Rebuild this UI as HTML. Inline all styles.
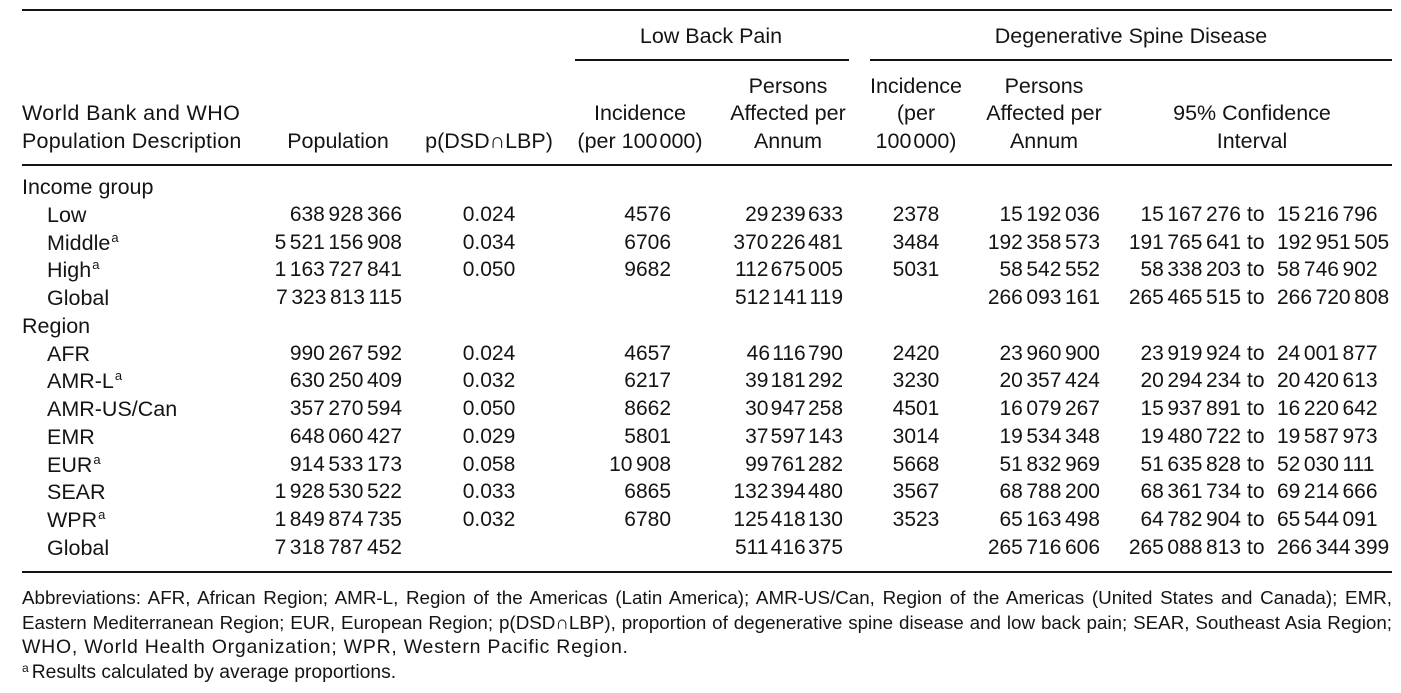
<!DOCTYPE html>
<html>
<head>
<meta charset="utf-8">
<style>
  html, body { margin:0; padding:0; background:#fff; }
  #c { position:relative; width:1401px; height:693px; overflow:hidden; background:#fff;
       font-family:"Liberation Sans", Arial, sans-serif; color:#141414; }
  .rule { position:absolute; background:#141414; height:2px; }
  .t { position:absolute; height:28px; line-height:28px; font-size:21.5px; white-space:nowrap; }
  .n { position:absolute; height:28px; line-height:28px; font-size:21px; white-space:nowrap; word-spacing:-2.3px; text-align:right; }
  .nt { word-spacing:-3.6px; }
  .cen { text-align:center; }
  .row { position:absolute; left:0; width:1401px; height:28px; }
  .sup { position:relative; top:-8px; font-size:13px; margin-left:1px; }
  .fn { position:absolute; left:22px; width:1370px; height:25px; line-height:25px; font-size:18.8px; white-space:nowrap; }
  .just { text-align:justify; text-align-last:justify; }
</style>
</head>
<body>
<div id="c">
  <!-- rules -->
  <div class="rule" style="left:22px; width:1370px; top:9px;"></div>
  <div class="rule" style="left:575px; width:274px; top:59px;"></div>
  <div class="rule" style="left:870px; width:522px; top:59px;"></div>
  <div class="rule" style="left:22px; width:1370px; top:164px;"></div>
  <div class="rule" style="left:22px; width:1370px; top:571px;"></div>

  <!-- header -->
  <div class="t cen" style="left:611px; width:200px; top:22px;">Low Back Pain</div>
  <div class="t cen" style="left:981px; width:300px; top:22px;">Degenerative Spine Disease</div>

  <div class="t" style="left:22px; top:99px; letter-spacing:0.4px;">World Bank and WHO</div>
  <div class="t" style="left:22px; top:127px; letter-spacing:0.2px;">Population Description</div>
  <div class="t cen" style="left:268px; width:140px; top:127px;">Population</div>
  <div class="t cen" style="left:409px; width:160px; top:127px;">p(DSD∩LBP)</div>
  <div class="t cen" style="left:560px; width:160px; top:99px;">Incidence</div>
  <div class="t cen" style="left:560px; width:160px; top:127px;">(per 100<span style="margin-left:2px"></span>000)</div>
  <div class="t cen" style="left:713px; width:150px; top:72px;">Persons</div>
  <div class="t cen" style="left:713px; width:150px; top:99px;">Affected per</div>
  <div class="t cen" style="left:713px; width:150px; top:127px;">Annum</div>
  <div class="t cen" style="left:856px; width:120px; top:72px;">Incidence</div>
  <div class="t cen" style="left:856px; width:120px; top:99px;">(per</div>
  <div class="t cen" style="left:856px; width:120px; top:127px;">100<span style="margin-left:2px"></span>000)</div>
  <div class="t cen" style="left:969px; width:150px; top:72px;">Persons</div>
  <div class="t cen" style="left:969px; width:150px; top:99px;">Affected per</div>
  <div class="t cen" style="left:969px; width:150px; top:127px;">Annum</div>
  <div class="t cen" style="left:1142px; width:220px; top:99px;">95% Confidence</div>
  <div class="t cen" style="left:1142px; width:220px; top:127px;">Interval</div>

  <!-- body -->
  <div class="row" style="top:173px;">
    <div class="t" style="left:22px;">Income group</div>
  </div>

  <div class="row" style="top:201px;">
    <div class="t" style="left:47px;">Low</div>
    <div class="n" style="right:999px;">638 928 366</div>
    <div class="n cen" style="left:439px; width:100px;">0.024</div>
    <div class="n" style="right:730px;">4576</div>
    <div class="n nt" style="right:558px;">29 239 633</div>
    <div class="n cen" style="left:866px; width:100px;">2378</div>
    <div class="n" style="right:301px;">15 192 036</div>
    <div class="n" style="right:160px;">15 167 276</div>
    <div class="n" style="left:1247px; text-align:left;">to</div>
    <div class="n" style="left:1277px; text-align:left;">15 216 796</div>
  </div>

  <div class="row" style="top:229px;">
    <div class="t" style="left:47px;">Middle<span class="sup">a</span></div>
    <div class="n" style="right:999px;">5 521 156 908</div>
    <div class="n cen" style="left:439px; width:100px;">0.034</div>
    <div class="n" style="right:730px;">6706</div>
    <div class="n nt" style="right:558px;">370 226 481</div>
    <div class="n cen" style="left:866px; width:100px;">3484</div>
    <div class="n" style="right:301px;">192 358 573</div>
    <div class="n" style="right:160px;">191 765 641</div>
    <div class="n" style="left:1247px; text-align:left;">to</div>
    <div class="n" style="left:1277px; text-align:left;">192 951 505</div>
  </div>

  <div class="row" style="top:256px;">
    <div class="t" style="left:47px;">High<span class="sup">a</span></div>
    <div class="n" style="right:999px;">1 163 727 841</div>
    <div class="n cen" style="left:439px; width:100px;">0.050</div>
    <div class="n" style="right:730px;">9682</div>
    <div class="n nt" style="right:558px;">112 675 005</div>
    <div class="n cen" style="left:866px; width:100px;">5031</div>
    <div class="n" style="right:301px;">58 542 552</div>
    <div class="n" style="right:160px;">58 338 203</div>
    <div class="n" style="left:1247px; text-align:left;">to</div>
    <div class="n" style="left:1277px; text-align:left;">58 746 902</div>
  </div>

  <div class="row" style="top:284px;">
    <div class="t" style="left:47px;">Global</div>
    <div class="n" style="right:999px;">7 323 813 115</div>
    <div class="n nt" style="right:558px;">512 141 119</div>
    <div class="n" style="right:301px;">266 093 161</div>
    <div class="n" style="right:160px;">265 465 515</div>
    <div class="n" style="left:1247px; text-align:left;">to</div>
    <div class="n" style="left:1277px; text-align:left;">266 720 808</div>
  </div>

  <div class="row" style="top:312px;">
    <div class="t" style="left:22px;">Region</div>
  </div>

  <div class="row" style="top:340px;">
    <div class="t" style="left:47px;">AFR</div>
    <div class="n" style="right:999px;">990 267 592</div>
    <div class="n cen" style="left:439px; width:100px;">0.024</div>
    <div class="n" style="right:730px;">4657</div>
    <div class="n nt" style="right:558px;">46 116 790</div>
    <div class="n cen" style="left:866px; width:100px;">2420</div>
    <div class="n" style="right:301px;">23 960 900</div>
    <div class="n" style="right:160px;">23 919 924</div>
    <div class="n" style="left:1247px; text-align:left;">to</div>
    <div class="n" style="left:1277px; text-align:left;">24 001 877</div>
  </div>

  <div class="row" style="top:367px;">
    <div class="t" style="left:47px;">AMR-L<span class="sup">a</span></div>
    <div class="n" style="right:999px;">630 250 409</div>
    <div class="n cen" style="left:439px; width:100px;">0.032</div>
    <div class="n" style="right:730px;">6217</div>
    <div class="n nt" style="right:558px;">39 181 292</div>
    <div class="n cen" style="left:866px; width:100px;">3230</div>
    <div class="n" style="right:301px;">20 357 424</div>
    <div class="n" style="right:160px;">20 294 234</div>
    <div class="n" style="left:1247px; text-align:left;">to</div>
    <div class="n" style="left:1277px; text-align:left;">20 420 613</div>
  </div>

  <div class="row" style="top:395px;">
    <div class="t" style="left:47px;">AMR-US/Can</div>
    <div class="n" style="right:999px;">357 270 594</div>
    <div class="n cen" style="left:439px; width:100px;">0.050</div>
    <div class="n" style="right:730px;">8662</div>
    <div class="n nt" style="right:558px;">30 947 258</div>
    <div class="n cen" style="left:866px; width:100px;">4501</div>
    <div class="n" style="right:301px;">16 079 267</div>
    <div class="n" style="right:160px;">15 937 891</div>
    <div class="n" style="left:1247px; text-align:left;">to</div>
    <div class="n" style="left:1277px; text-align:left;">16 220 642</div>
  </div>

  <div class="row" style="top:423px;">
    <div class="t" style="left:47px;">EMR</div>
    <div class="n" style="right:999px;">648 060 427</div>
    <div class="n cen" style="left:439px; width:100px;">0.029</div>
    <div class="n" style="right:730px;">5801</div>
    <div class="n nt" style="right:558px;">37 597 143</div>
    <div class="n cen" style="left:866px; width:100px;">3014</div>
    <div class="n" style="right:301px;">19 534 348</div>
    <div class="n" style="right:160px;">19 480 722</div>
    <div class="n" style="left:1247px; text-align:left;">to</div>
    <div class="n" style="left:1277px; text-align:left;">19 587 973</div>
  </div>

  <div class="row" style="top:451px;">
    <div class="t" style="left:47px;">EUR<span class="sup">a</span></div>
    <div class="n" style="right:999px;">914 533 173</div>
    <div class="n cen" style="left:439px; width:100px;">0.058</div>
    <div class="n" style="right:730px;">10 908</div>
    <div class="n nt" style="right:558px;">99 761 282</div>
    <div class="n cen" style="left:866px; width:100px;">5668</div>
    <div class="n" style="right:301px;">51 832 969</div>
    <div class="n" style="right:160px;">51 635 828</div>
    <div class="n" style="left:1247px; text-align:left;">to</div>
    <div class="n" style="left:1277px; text-align:left;">52 030 111</div>
  </div>

  <div class="row" style="top:478px;">
    <div class="t" style="left:47px;">SEAR</div>
    <div class="n" style="right:999px;">1 928 530 522</div>
    <div class="n cen" style="left:439px; width:100px;">0.033</div>
    <div class="n" style="right:730px;">6865</div>
    <div class="n nt" style="right:558px;">132 394 480</div>
    <div class="n cen" style="left:866px; width:100px;">3567</div>
    <div class="n" style="right:301px;">68 788 200</div>
    <div class="n" style="right:160px;">68 361 734</div>
    <div class="n" style="left:1247px; text-align:left;">to</div>
    <div class="n" style="left:1277px; text-align:left;">69 214 666</div>
  </div>

  <div class="row" style="top:506px;">
    <div class="t" style="left:47px;">WPR<span class="sup">a</span></div>
    <div class="n" style="right:999px;">1 849 874 735</div>
    <div class="n cen" style="left:439px; width:100px;">0.032</div>
    <div class="n" style="right:730px;">6780</div>
    <div class="n nt" style="right:558px;">125 418 130</div>
    <div class="n cen" style="left:866px; width:100px;">3523</div>
    <div class="n" style="right:301px;">65 163 498</div>
    <div class="n" style="right:160px;">64 782 904</div>
    <div class="n" style="left:1247px; text-align:left;">to</div>
    <div class="n" style="left:1277px; text-align:left;">65 544 091</div>
  </div>

  <div class="row" style="top:534px;">
    <div class="t" style="left:47px;">Global</div>
    <div class="n" style="right:999px;">7 318 787 452</div>
    <div class="n nt" style="right:558px;">511 416 375</div>
    <div class="n" style="right:301px;">265 716 606</div>
    <div class="n" style="right:160px;">265 088 813</div>
    <div class="n" style="left:1247px; text-align:left;">to</div>
    <div class="n" style="left:1277px; text-align:left;">266 344 399</div>
  </div>

  <!-- footnotes -->
  <div class="fn just" style="top:585px;">Abbreviations: AFR, African Region; AMR-L, Region of the Americas (Latin America); AMR-US/Can, Region of the Americas (United States and Canada); EMR,</div>
  <div class="fn just" style="top:610px;">Eastern Mediterranean Region; EUR, European Region; p(DSD∩LBP), proportion of degenerative spine disease and low back pain; SEAR, Southeast Asia Region;</div>
  <div class="fn" style="top:635px; font-size:19.5px; letter-spacing:0.75px;">WHO, World Health Organization; WPR, Western Pacific Region.</div>
  <div class="fn" style="top:660px; font-size:19.3px;"><span style="position:relative; top:-6px; font-size:12px; margin-right:3px;">a</span>Results calculated by average proportions.</div>
</div>
</body>
</html>
